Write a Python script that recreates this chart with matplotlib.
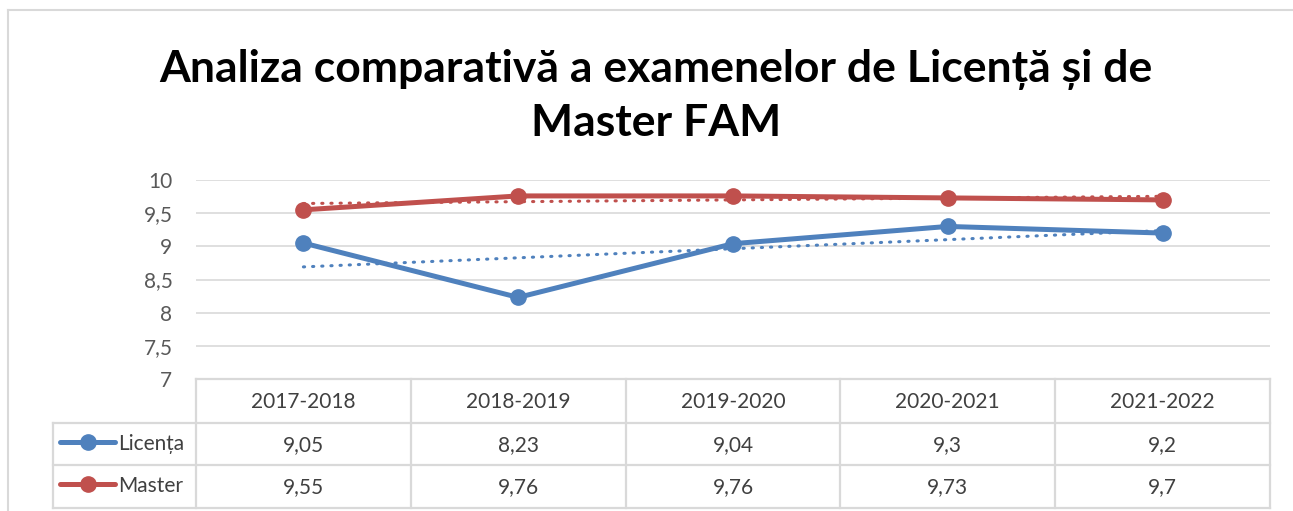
import numpy as np
import matplotlib.pyplot as plt
from matplotlib.lines import Line2D
from matplotlib.ticker import FuncFormatter

years = ["2017-2018", "2018-2019", "2019-2020", "2020-2021", "2021-2022"]
licenta = [9.05, 8.23, 9.04, 9.3, 9.2]
master = [9.55, 9.76, 9.76, 9.73, 9.7]
series_names = ["Licența", "Master"]
colors = ["#4F81BD", "#C0504D"]
title_lines = ["Analiza comparativă a examenelor de Licență și de", "Master FAM"]

W, H = 1293, 511
plt.rcParams['font.family'] = ['Lato', 'DejaVu Sans']
fig = plt.figure(figsize=(W / 100, H / 100), dpi=100)


def box(l, t, r, b):
    return [l / W, 1 - b / H, (r - l) / W, (b - t) / H]


def fmt(v):
    return f"{v:g}".replace('.', ',')


# chart frame (left and top edges visible)
frame = dict(transform=fig.transFigure, color='#D9D9D9', lw=1.5)
fig.add_artist(Line2D([8 / W, 8 / W], [0, 1 - 10 / H], **frame))
fig.add_artist(Line2D([8 / W, 1], [1 - 10 / H, 1 - 10 / H], **frame))

# title
fig.text(656 / W, 1 - 69 / H, title_lines[0], ha='center', va='center',
         fontsize=32, fontweight='bold', color='black')
fig.text(656 / W, 1 - 123 / H, title_lines[1], ha='center', va='center',
         fontsize=32, fontweight='bold', color='black')

# plot area
ax = fig.add_axes(box(196, 180, 1270, 379))
x = np.arange(len(years))
all_vals = [licenta, master]
for vals, c in zip(all_vals, colors):
    ax.plot(x, vals, color=c, lw=3.6, marker='o', ms=11, solid_capstyle='round', zorder=3)
    k, b0 = np.polyfit(x, vals, 1)
    ax.plot(x, k * x + b0, color=c, lw=2.2, ls=(0, (0.4, 2.6)),
            dash_capstyle='round', zorder=2)
ax.set_xlim(-0.5, len(years) - 0.5)
ax.set_ylim(7, 10)
ax.set_yticks(np.arange(7, 10.01, 0.5))
ax.yaxis.set_major_formatter(FuncFormatter(lambda v, p: fmt(v)))
ax.set_xticks([])
ax.grid(axis='y', color='#D9D9D9', lw=1.2)
for s in ax.spines.values():
    s.set_visible(False)
ax.tick_params(axis='y', length=0, pad=17, labelsize=15, labelcolor='#595959')

# data table below
tx = fig.add_axes(box(53, 379, 1270, 508))
unit = 1074 / len(years)
xl = -0.5 - 143 / unit
tx.set_xlim(xl, len(years) - 0.5)
tx.set_ylim(508, 379)
tx.axis('off')
g = dict(color='#D9D9D9', lw=1.6, clip_on=False)
xr = len(years) - 0.5
tx.plot([-0.5, xr], [379, 379], **g)
for yy in (423, 465, 508):
    tx.plot([xl, xr], [yy, yy], **g)
for i in range(len(years) + 1):
    tx.plot([i - 0.5] * 2, [379, 508], **g)
tx.plot([xl, xl], [423, 508], **g)

tcol = '#404040'
for i, yr in enumerate(years):
    tx.text(i, 402, yr, ha='center', va='center', fontsize=15, color=tcol)
for row_y, vals, c, name in zip((444, 486), all_vals, colors, series_names):
    for i, v in enumerate(vals):
        tx.text(i, row_y + 1, fmt(v), ha='center', va='center', fontsize=15, color=tcol)
    tx.plot([xl + 7 / unit, xl + 62 / unit], [row_y - 2, row_y - 2], color=c, lw=3.6,
            solid_capstyle='round', clip_on=False)
    tx.plot([xl + 35 / unit], [row_y - 2], 'o', color=c, ms=11, clip_on=False)
    tx.text(xl + 65 / unit, row_y, name, ha='left', va='center', fontsize=15, color=tcol)

fig.savefig('out.png', dpi=100)
